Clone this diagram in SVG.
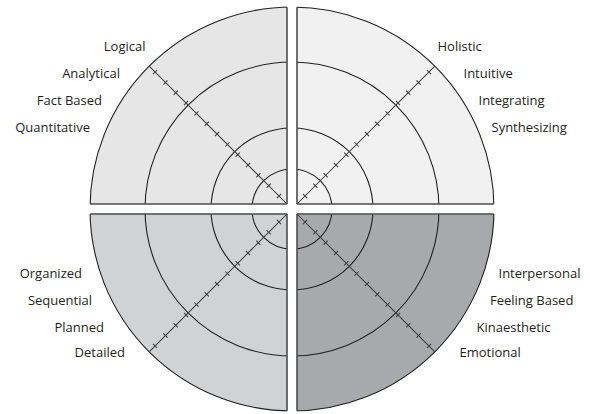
<svg xmlns="http://www.w3.org/2000/svg" xmlns:xlink="http://www.w3.org/1999/xlink" width="590" height="414" viewBox="0 0 590 414">
<style>
.lbl{font-family:"Open Sans","Liberation Sans",sans-serif;font-size:13px;fill:#231f20}
.end{text-anchor:end}
.ring{fill:none;stroke:#231f20;stroke-width:1.1}
.diag{stroke:#3a3a3a;stroke-width:1;fill:none}
.edge{stroke:#4d4d4d;stroke-width:1.6;fill:none}
</style>
<defs>
<clipPath id="disc"><circle cx="292" cy="209" r="202"/></clipPath>
<g id="diag">
<line class="diag" x1="0" y1="0" x2="202" y2="0"/>
<path class="diag" d="M18.4-3v6M33-3v6M47.6-3v6M62.2-3v6M76.8-3v6M91.4-3v6M106-3v6M120.6-3v6M135.2-3v6M149.8-3v6M164.4-3v6M179-3v6M193.6-3v6"/>
</g>
</defs>
<g id="quadrants" clip-path="url(#disc)">
<rect id="q-tl" x="80" y="0" width="212" height="209" fill="#e6e6e7"/>
<rect id="q-tr" x="292" y="0" width="220" height="209" fill="#f1f1f2"/>
<rect id="q-bl" x="80" y="209" width="212" height="205" fill="#d1d2d4"/>
<rect id="q-br" x="292" y="209" width="220" height="205" fill="#a7a9ac"/>
</g>
<g id="rings">
<circle class="ring" cx="292" cy="209" r="40"/>
<circle class="ring" cx="292" cy="209" r="81"/>
<circle class="ring" cx="292" cy="209" r="147"/>
<circle class="ring" cx="292" cy="209" r="202" stroke-width="1.3"/>
</g>
<g id="diagonals">
<use xlink:href="#diag" transform="translate(292 209) rotate(225)"/>
<use xlink:href="#diag" transform="translate(292 209) rotate(315)"/>
<use xlink:href="#diag" transform="translate(292 209) rotate(135)"/>
<use xlink:href="#diag" transform="translate(292 209) rotate(45)"/>
</g>
<g id="gap">
<rect x="287" y="0" width="10" height="414" fill="#fff"/>
<rect x="0" y="204" width="590" height="10" fill="#fff"/>
<path class="edge" clip-path="url(#disc)" d="M287 0V204M297 0V204M287 214V414M297 214V414M0 204H287M297 204H590M0 214H287M297 214H590"/>
</g>
<g id="labels-tl">
<text class="lbl end" x="145.5" y="51">Logical</text>
<text class="lbl end" x="120" y="78">Analytical</text>
<text class="lbl end" x="102" y="105">Fact Based</text>
<text class="lbl end" x="90" y="132">Quantitative</text>
</g>
<g id="labels-tr">
<text class="lbl" x="437.5" y="51">Holistic</text>
<text class="lbl" x="463.5" y="78">Intuitive</text>
<text class="lbl" x="478.5" y="105">Integrating</text>
<text class="lbl" x="491.5" y="132">Synthesizing</text>
</g>
<g id="labels-bl">
<text class="lbl end" x="82" y="278">Organized</text>
<text class="lbl end" x="92" y="305">Sequential</text>
<text class="lbl end" x="104" y="331.5">Planned</text>
<text class="lbl end" x="125" y="357">Detailed</text>
</g>
<g id="labels-br">
<text class="lbl" x="498.5" y="278">Interpersonal</text>
<text class="lbl" x="490" y="305">Feeling Based</text>
<text class="lbl" x="476.5" y="331.5">Kinaesthetic</text>
<text class="lbl" x="459.5" y="357">Emotional</text>
</g>
</svg>
